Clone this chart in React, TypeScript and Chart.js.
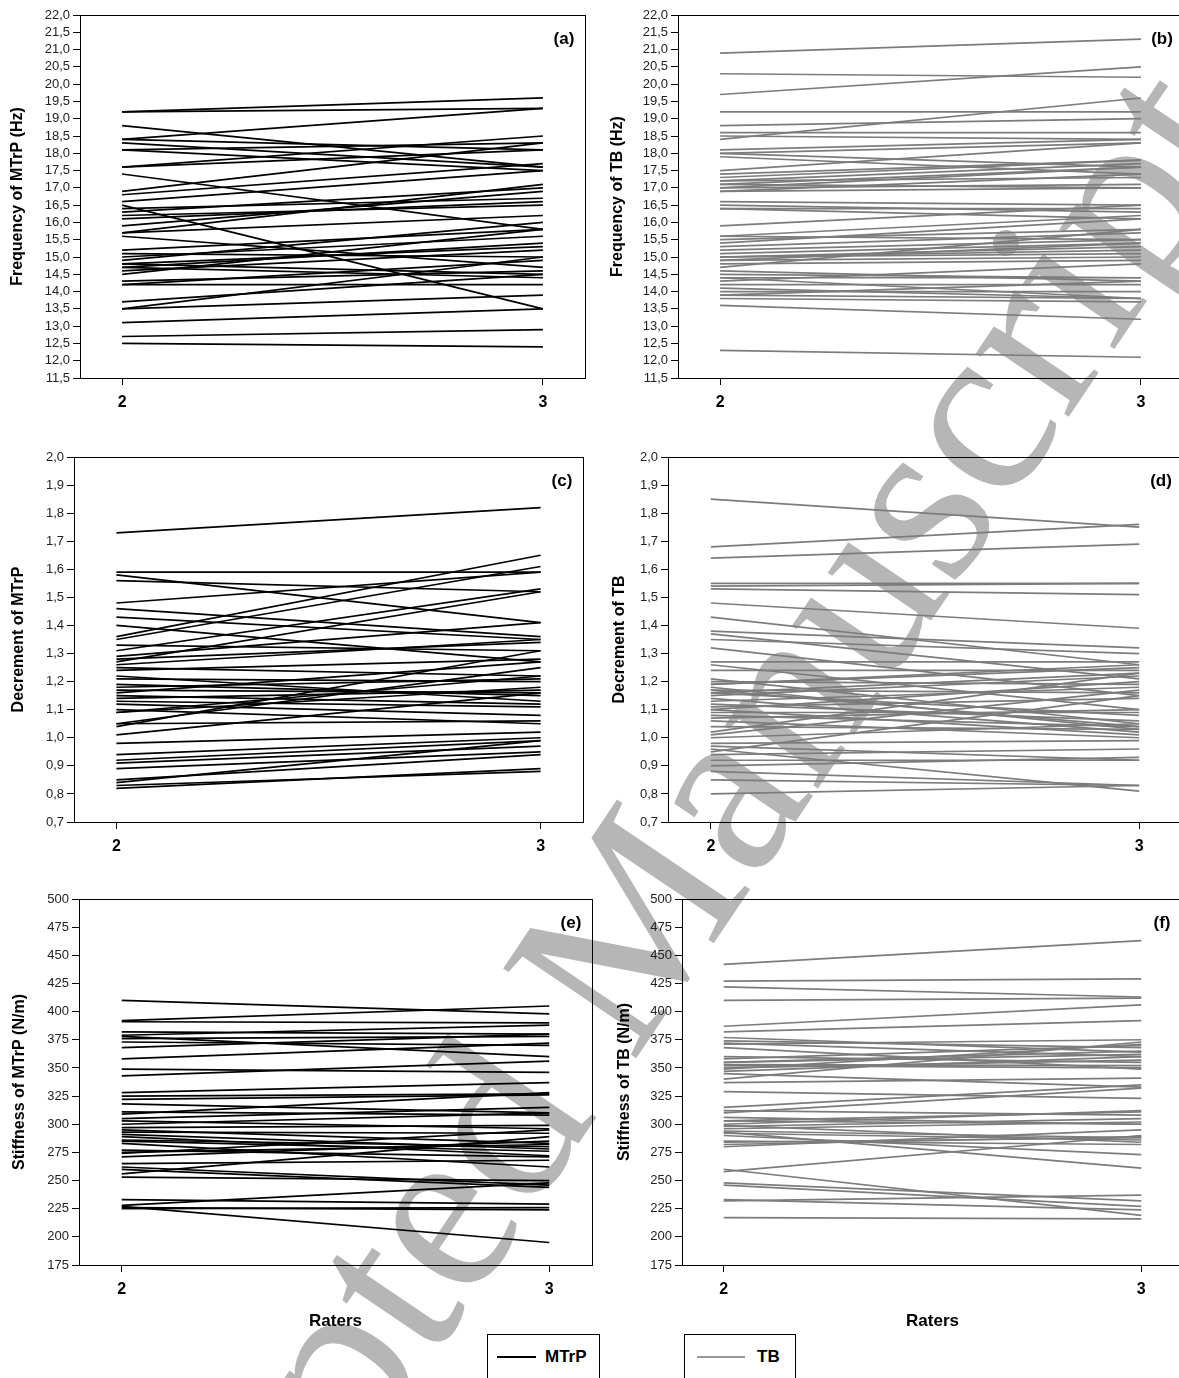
import React, { useEffect, useRef } from "react";
import { Chart, registerables } from "chart.js";

Chart.register(...registerables);

// ---------- data ----------
const RATERS = [2, 3];

// (a) Frequency of MTrP (Hz)
const freqMtrpR2 = [19.2, 19.2, 18.8, 18.4, 18.4, 18.3, 18.1, 18.1, 17.6, 17.6, 17.4, 16.9, 16.8, 16.6, 16.5, 16.4, 16.3, 16.2, 16.1, 15.9, 15.7, 15.7, 15.6, 15.2, 15.1, 15.0, 14.9, 14.8, 14.8, 14.7, 14.7, 14.6, 14.5, 14.3, 14.2, 14.2, 13.7, 13.5, 13.5, 13.1, 12.7, 12.5];
const freqMtrpR3 = [19.6, 19.3, 17.6, 19.3, 18.1, 17.6, 18.3, 17.5, 18.5, 18.1, 15.8, 18.3, 17.7, 17.5, 13.5, 16.7, 17.0, 16.5, 16.6, 16.9, 16.2, 17.1, 14.7, 15.8, 15.0, 15.6, 16.0, 15.3, 14.5, 15.4, 14.4, 15.2, 15.8, 14.6, 14.2, 14.9, 14.5, 15.0, 13.9, 13.5, 12.9, 12.4];

// (b) Frequency of TB (Hz)
const freqTbR2 = [20.9, 20.3, 19.7, 19.2, 18.8, 18.6, 18.5, 18.4, 18.1, 18.0, 17.9, 17.5, 17.3, 17.2, 17.1, 17.0, 17.0, 16.9, 16.6, 16.5, 16.4, 15.9, 15.6, 15.5, 15.4, 15.2, 15.1, 15.0, 15.0, 14.9, 14.8, 14.7, 14.5, 14.4, 14.3, 14.2, 14.0, 13.9, 13.8, 13.6, 12.3, 17.4, 17.2, 16.4, 15.0, 14.6, 13.9, 18.0, 15.6, 17.1, 16.9, 15.3, 14.9, 14.4, 14.1];
const freqTbR3 = [21.3, 20.2, 20.5, 19.2, 19.0, 18.6, 18.4, 19.6, 18.4, 18.3, 17.4, 18.3, 17.8, 17.7, 17.0, 17.6, 17.1, 17.4, 16.5, 16.3, 16.4, 16.5, 16.2, 15.8, 16.1, 15.5, 15.4, 15.2, 15.3, 15.0, 14.9, 15.8, 14.4, 13.8, 14.8, 14.2, 14.0, 14.3, 13.7, 13.2, 12.1, 17.8, 17.3, 16.1, 15.1, 14.3, 13.8, 17.6, 15.5, 17.6, 17.0, 15.7, 15.4, 14.4, 13.8];

// (c) Decrement of MTrP
const decMtrpR2 = [1.73, 1.59, 1.58, 1.56, 1.48, 1.46, 1.43, 1.40, 1.36, 1.35, 1.33, 1.31, 1.29, 1.28, 1.27, 1.26, 1.25, 1.24, 1.22, 1.21, 1.19, 1.18, 1.17, 1.16, 1.14, 1.13, 1.12, 1.09, 1.09, 1.05, 1.05, 1.04, 1.01, 0.98, 0.94, 0.92, 0.91, 0.89, 0.85, 0.84, 0.83, 0.82, 1.10, 1.15];
const decMtrpR3 = [1.82, 1.59, 1.41, 1.52, 1.59, 1.36, 1.35, 1.27, 1.65, 1.61, 1.31, 1.53, 1.41, 1.34, 1.52, 1.35, 1.22, 1.28, 1.13, 1.20, 1.15, 1.21, 1.16, 1.27, 1.17, 1.11, 1.08, 1.22, 1.18, 1.25, 1.06, 1.31, 1.16, 1.02, 1.00, 0.99, 0.97, 0.95, 0.94, 0.99, 0.88, 0.89, 1.05, 1.12];

// (d) Decrement of TB
const decTbR2 = [1.85, 1.68, 1.64, 1.55, 1.54, 1.53, 1.48, 1.43, 1.38, 1.37, 1.35, 1.32, 1.27, 1.26, 1.24, 1.21, 1.20, 1.19, 1.18, 1.17, 1.16, 1.15, 1.14, 1.12, 1.11, 1.10, 1.09, 1.08, 1.07, 1.06, 1.02, 1.01, 1.00, 0.98, 0.96, 0.95, 0.94, 0.92, 0.90, 0.88, 0.85, 0.80, 1.13, 1.19, 1.17, 1.10, 1.04, 0.97, 1.16];
const decTbR3 = [1.75, 1.76, 1.69, 1.55, 1.55, 1.51, 1.39, 1.26, 1.32, 1.21, 1.30, 1.15, 1.27, 1.10, 1.24, 1.05, 1.19, 1.25, 1.03, 1.16, 1.08, 1.22, 1.02, 1.06, 1.14, 1.01, 1.09, 1.04, 1.10, 1.00, 1.23, 1.17, 1.05, 0.99, 0.81, 1.15, 0.96, 0.92, 0.93, 0.83, 0.83, 0.83, 1.18, 1.26, 1.04, 1.20, 1.03, 0.92, 1.23];

// (e) Stiffness of MTrP (N/m)
const stiffMtrpR2 = [410, 392, 391, 382, 379, 378, 376, 373, 368, 358, 349, 343, 328, 325, 322, 318, 311, 309, 305, 303, 297, 295, 293, 291, 289, 286, 283, 277, 275, 274, 271, 265, 262, 260, 256, 253, 233, 228, 227, 226, 225, 300, 285];
const stiffMtrpR3 = [398, 405, 390, 380, 388, 360, 378, 370, 380, 372, 346, 356, 337, 327, 326, 310, 308, 328, 315, 296, 299, 283, 292, 278, 272, 280, 262, 271, 282, 295, 285, 268, 246, 244, 289, 250, 229, 248, 195, 224, 226, 310, 276];

// (f) Stiffness of TB (N/m)
const stiffTbR2 = [442, 427, 422, 410, 387, 382, 377, 374, 371, 368, 358, 355, 353, 350, 347, 345, 340, 337, 329, 315, 312, 310, 303, 300, 298, 296, 294, 292, 290, 285, 282, 280, 258, 293, 260, 248, 246, 233, 232, 217, 355, 352, 349, 360, 372, 306, 303, 299, 284];
const stiffTbR3 = [463, 429, 413, 412, 406, 392, 364, 368, 375, 349, 370, 362, 352, 357, 360, 333, 373, 341, 323, 335, 308, 332, 300, 312, 305, 302, 288, 286, 273, 282, 289, 295, 290, 261, 219, 232, 227, 224, 237, 216, 365, 350, 371, 355, 360, 300, 311, 284, 288];

const MTRP_COLOR = "#000000";
const TB_COLOR = "#7c7c7c";
const FONT = "'Liberation Sans', Arial, sans-serif";

type PanelProps = {
  r2: number[];
  r3: number[];
  color: string;
  yTitle: string;
  label: string;
  yMin: number;
  yMax: number;
  yStep: number;
  decimals: number;
  plotLeft: number;
  plotRight: number;
  plotTop: number;
  plotBottom: number;
  titleX: number;
  showRaters: boolean;
};

function Panel(p: PanelProps) {
  const ref = useRef<HTMLCanvasElement>(null);
  const TOP_PAD = 14;
  const xAxisH = p.showRaters ? 67 : 36;
  const canvasLeft = Math.round(p.titleX - 10);
  const canvasTop = p.plotTop - TOP_PAD;
  const width = p.plotRight + 3 - canvasLeft;
  const height = p.plotBottom + xAxisH - canvasTop;
  const yAxisW = p.plotLeft - canvasLeft;

  useEffect(() => {
    const canvas = ref.current;
    if (!canvas) return;
    const datasets = p.r2.map((a, i) => ({
      data: [
        { x: RATERS[0], y: a },
        { x: RATERS[1], y: p.r3[i] },
      ],
      borderColor: p.color,
      borderWidth: 1.7,
      pointRadius: 0,
      fill: false,
      tension: 0,
    }));
    const framePlugin = {
      id: "frame",
      afterDraw(chart: any) {
        const { ctx, chartArea: a } = chart;
        ctx.save();
        ctx.strokeStyle = "#000";
        ctx.lineWidth = 1;
        ctx.strokeRect(
          Math.floor(a.left) + 0.5,
          Math.floor(a.top) + 0.5,
          Math.round(a.right - a.left),
          Math.round(a.bottom - a.top)
        );
        ctx.fillStyle = "#000";
        ctx.font = `bold 17px ${FONT}`;
        ctx.textAlign = "center";
        ctx.textBaseline = "middle";
        ctx.fillText(p.label, a.right - 21, a.top + 24);
        ctx.restore();
      },
    };
    const chart = new Chart(canvas, {
      type: "line",
      data: { datasets } as any,
      options: {
        animation: false,
        responsive: false,
        maintainAspectRatio: false,
        devicePixelRatio: 1,
        events: [],
        layout: { padding: { top: TOP_PAD, right: 3, left: 0, bottom: 0 } },
        plugins: { legend: { display: false }, tooltip: { enabled: false } },
        scales: {
          x: {
            type: "linear",
            min: 1.9,
            max: 3.1,
            afterBuildTicks: (ax: any) => {
              ax.ticks = RATERS.map((v) => ({ value: v }));
            },
            afterFit: (ax: any) => {
              ax.height = xAxisH;
            },
            grid: { drawOnChartArea: false, drawTicks: true, tickLength: 7, color: "#000", lineWidth: 1 },
            border: { display: true, color: "#000", width: 1 },
            ticks: {
              autoSkip: false,
              maxRotation: 0,
              padding: 8,
              color: "#000",
              font: { family: FONT, size: 16, weight: "bold" },
              callback: (v: any) => String(v),
            },
            title: {
              display: p.showRaters,
              text: "Raters",
              color: "#000",
              padding: 0,
              font: { family: FONT, size: 17, weight: "bold" },
            },
          },
          y: {
            type: "linear",
            min: p.yMin,
            max: p.yMax,
            afterFit: (ax: any) => {
              ax.width = yAxisW;
            },
            grid: { drawOnChartArea: false, drawTicks: true, tickLength: 7, color: "#000", lineWidth: 1 },
            border: { display: true, color: "#000", width: 1 },
            ticks: {
              stepSize: p.yStep,
              autoSkip: false,
              padding: 3,
              color: "#222",
              font: { family: FONT, size: 13 },
              callback: (v: any) => Number(v).toFixed(p.decimals).replace(".", ","),
            },
            title: {
              display: true,
              text: p.yTitle,
              color: "#000",
              padding: 0,
              font: { family: FONT, size: 16, weight: "bold" },
            },
          },
        },
      } as any,
      plugins: [framePlugin],
    });
    return () => chart.destroy();
  }, []);

  return (
    <canvas
      ref={ref}
      width={width}
      height={height}
      style={{ position: "absolute", left: canvasLeft, top: canvasTop, width, height }}
    />
  );
}

function LegendBox(props: { left: number; width: number; lineLeft: number; lineWidth: number; textLeft: number; color: string; text: string }) {
  return (
    <>
      <div
        style={{
          position: "absolute",
          left: props.left,
          top: 1334,
          width: props.width,
          height: 80,
          border: "1px solid #000",
          boxSizing: "border-box",
        }}
      />
      <div
        style={{
          position: "absolute",
          left: props.lineLeft,
          top: 1356,
          width: props.lineWidth,
          height: 2,
          background: props.color,
        }}
      />
      <div
        style={{
          position: "absolute",
          left: props.textLeft,
          top: 1346,
          fontFamily: FONT,
          fontWeight: "bold",
          fontSize: 17,
          lineHeight: "22px",
          color: "#000",
        }}
      >
        {props.text}
      </div>
    </>
  );
}

export default function App() {
  return (
    <div
      style={{
        position: "absolute",
        left: 0,
        top: 0,
        width: 1179,
        height: 1378,
        overflow: "hidden",
        background: "#fff",
      }}
    >
      <div
        style={{
          position: "absolute",
          left: 600,
          top: 964,
          transform: "translate(-50%, -50%) rotate(-56deg)",
          fontFamily: "'Liberation Serif', 'Times New Roman', serif",
          fontSize: 245,
          lineHeight: 1,
          color: "#b6b6b6",
          whiteSpace: "nowrap",
        }}
      >
        Accepted Manuscript
      </div>

      <Panel r2={freqMtrpR2} r3={freqMtrpR3} color={MTRP_COLOR} yTitle="Frequency of MTrP (Hz)" label="(a)"
        yMin={11.5} yMax={22} yStep={0.5} decimals={1}
        plotLeft={80} plotRight={585} plotTop={15} plotBottom={378} titleX={18} showRaters={false} />
      <Panel r2={freqTbR2} r3={freqTbR3} color={TB_COLOR} yTitle="Frequency of TB (Hz)" label="(b)"
        yMin={11.5} yMax={22} yStep={0.5} decimals={1}
        plotLeft={678} plotRight={1183} plotTop={15} plotBottom={378} titleX={618} showRaters={false} />
      <Panel r2={decMtrpR2} r3={decMtrpR3} color={MTRP_COLOR} yTitle="Decrement of MTrP" label="(c)"
        yMin={0.7} yMax={2.0} yStep={0.1} decimals={1}
        plotLeft={74} plotRight={583} plotTop={457} plotBottom={822} titleX={19} showRaters={false} />
      <Panel r2={decTbR2} r3={decTbR3} color={TB_COLOR} yTitle="Decrement of TB" label="(d)"
        yMin={0.7} yMax={2.0} yStep={0.1} decimals={1}
        plotLeft={668} plotRight={1182} plotTop={457} plotBottom={822} titleX={620} showRaters={false} />
      <Panel r2={stiffMtrpR2} r3={stiffMtrpR3} color={MTRP_COLOR} yTitle="Stiffness of MTrP (N/m)" label="(e)"
        yMin={175} yMax={500} yStep={25} decimals={0}
        plotLeft={79} plotRight={592} plotTop={899} plotBottom={1265} titleX={20} showRaters={true} />
      <Panel r2={stiffTbR2} r3={stiffTbR3} color={TB_COLOR} yTitle="Stiffness of TB (N/m)" label="(f)"
        yMin={175} yMax={500} yStep={25} decimals={0}
        plotLeft={682} plotRight={1183} plotTop={899} plotBottom={1265} titleX={625} showRaters={true} />

      <LegendBox left={487} width={113} lineLeft={497} lineWidth={39} textLeft={545} color="#000" text="MTrP" />
      <LegendBox left={684} width={112} lineLeft={697} lineWidth={48} textLeft={757} color="#999" text="TB" />
    </div>
  );
}
